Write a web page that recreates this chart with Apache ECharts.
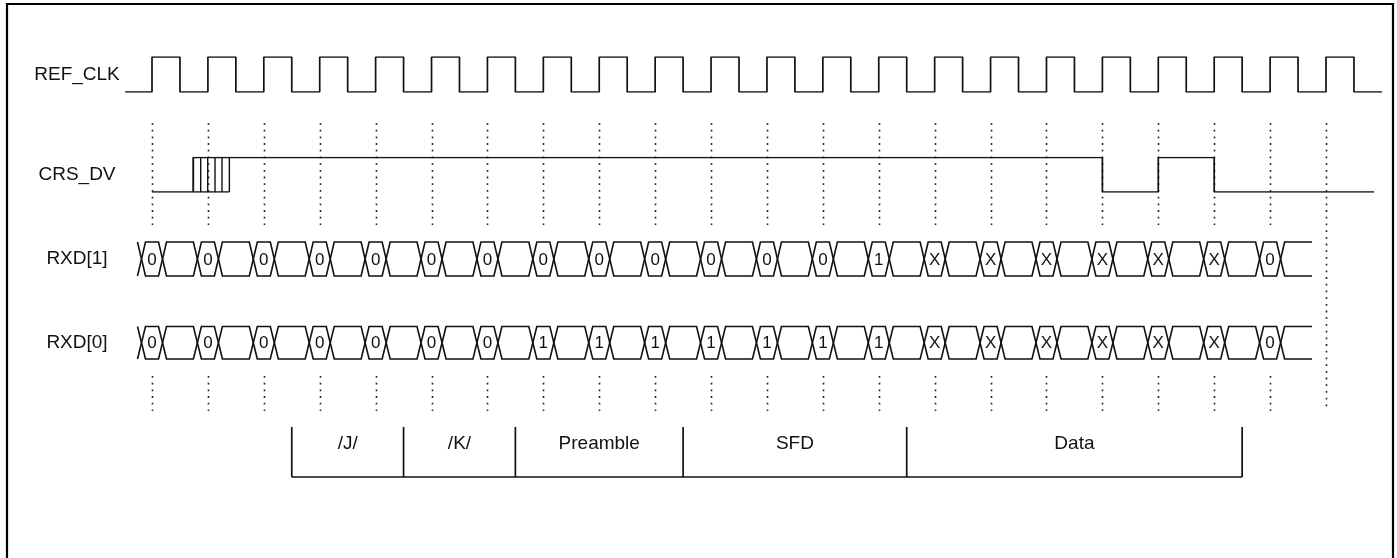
<!DOCTYPE html>
<html><head><meta charset="utf-8">
<script src="https://cdn.jsdelivr.net/npm/echarts@6/dist/echarts.min.js"></script>
<style>html,body{margin:0;padding:0;background:#fff}#c{width:1397px;height:558px}</style>
</head><body><div id="c"></div>
<script>
// ---------------- data (time in REF_CLK periods, t = 0 at first rising edge) ----------------
const rowNames = ['REF_CLK', 'CRS_DV', 'RXD[1]', 'RXD[0]'];
const clkRise = [0, 1, 2, 3, 4, 5, 6, 7, 8, 9, 10, 11, 12, 13, 14, 15, 16, 17, 18, 19, 20, 21];
const clkStart = -0.48, clkEnd = 22.0, clkDuty = 0.5;
const crsSteps = [[0, 0], [0.739, 1], [17, 0], [18, 1], [19, 0]];
const crsEnd = 21.86;
const crsHatch = [0.739, 0.871, 0.996, 1.127, 1.252, 1.384];
const rxd1 = ['0','0','0','0','0','0','0','0','0','0','0','0','0','1','X','X','X','X','X','X','0'];
const rxd0 = ['0','0','0','0','0','0','0','1','1','1','1','1','1','1','X','X','X','X','X','X','0'];
const cellHalf = 0.188;
const busEnd = 20.75;
const guideShort = [0, 1, 2, 3, 4, 5, 6, 7, 8, 9, 10, 11, 12, 13, 14, 15, 16, 17, 18, 19, 20];
const guideLong = [21];
const segNames = ['/J/', '/K/', 'Preamble', 'SFD', 'Data'];
const segBounds = [2.5, 4.5, 6.5, 9.5, 13.5, 19.5];

// ---------------- layout ----------------
const W = 1397, H = 558, PX0 = 152, PER = 55.905;
const xMin = -PX0 / PER, xMax = (W - PX0) / PER;
const rows = [
  {top: 57, height: 35},
  {top: 157.5, height: 34.5},
  {top: 242, height: 34},
  {top: 326.5, height: 32.5}
];
const INK = '#111';
const LW = 1.7;
const FONT = '"Liberation Sans", Arial, sans-serif';

const grids = rows.map(r => ({left: 0, right: 0, top: r.top, height: r.height}));
grids.push({left: 0, right: 0, top: 0, height: H});
const xAxes = grids.map((g, i) => ({type: 'value', gridIndex: i, min: xMin, max: xMax, show: false}));
const yAxes = grids.map((g, i) => i < 4
  ? {type: 'value', gridIndex: i, min: 0, max: 1, show: false}
  : {type: 'value', gridIndex: i, min: 0, max: H, inverse: true, show: false});

// clock path
const clkData = [[clkStart, 0]];
clkRise.forEach(t => { clkData.push([t, 0], [t, 1], [t + clkDuty, 1], [t + clkDuty, 0]); });
clkData.push([clkEnd, 0]);

// CRS_DV path
const crsData = [];
crsSteps.forEach((s, i) => {
  if (i === 0) crsData.push([s[0], s[1]]);
  else { crsData.push([s[0], crsSteps[i - 1][1]], [s[0], s[1]]); }
});
crsData.push([crsEnd, crsSteps[crsSteps.length - 1][1]]);

function busCells(labels) {
  const cells = [];
  labels.forEach((lab, k) => {
    cells.push({t0: k - cellHalf, t1: k + cellHalf, label: lab, first: k === 0});
    const nextStart = k + 1 - cellHalf;
    if (k < labels.length - 1) cells.push({t0: k + cellHalf, t1: nextStart, label: ''});
    else cells.push({t0: k + cellHalf, t1: busEnd, label: '', open: true});
  });
  return cells;
}

function busSeries(labels, gi) {
  const cells = busCells(labels);
  return {
    type: 'custom', xAxisIndex: gi, yAxisIndex: gi, silent: true,
    data: cells.map(c => [c.t0, c.t1]),
    encode: {x: [0, 1]},
    renderItem: (params, api) => {
      const c = cells[params.dataIndex];
      const x0 = api.coord([c.t0, 0])[0], x1 = api.coord([c.t1, 0])[0];
      const yT = api.coord([0, 1])[1], yB = api.coord([0, 0])[1], yM = (yT + yB) / 2;
      const h = 4;
      const st = {stroke: INK, lineWidth: 1.6, fill: null};
      const children = [];
      if (c.open) {
        children.push({type: 'polyline', shape: {points: [[x1, yT], [x0 + h, yT], [x0, yM], [x0 + h, yB], [x1, yB]]}, style: st});
      } else {
        children.push({type: 'polygon', shape: {points: [[x0 + h, yT], [x1 - h, yT], [x1, yM], [x1 - h, yB], [x0 + h, yB], [x0, yM]]}, style: st});
      }
      if (c.first) {
        children.push({type: 'polyline', shape: {points: [[x0 - h, yT], [x0, yM], [x0 - h, yB]]}, style: st});
      }
      if (c.label) {
        children.push({type: 'text', style: {text: c.label, x: (x0 + x1) / 2, y: yM + 1, align: 'center', verticalAlign: 'middle',
          font: '17px ' + FONT, fill: INK}});
      }
      return {type: 'group', children: children};
    }
  };
}

const guideData = guideShort.map(t => [t, 0]).concat(guideLong.map(t => [t, 1]));
const series = [
  {type: 'line', xAxisIndex: 0, yAxisIndex: 0, data: clkData, showSymbol: false, silent: true,
   lineStyle: {color: INK, width: LW}},
  {type: 'line', xAxisIndex: 1, yAxisIndex: 1, data: crsData, showSymbol: false, silent: true,
   lineStyle: {color: INK, width: LW}},
  {type: 'line', xAxisIndex: 1, yAxisIndex: 1, data: [[crsHatch[0], 0], [crsHatch[crsHatch.length - 1], 0]], showSymbol: false, silent: true,
   lineStyle: {color: INK, width: LW}},
  {type: 'custom', xAxisIndex: 1, yAxisIndex: 1, silent: true, data: crsHatch.map(t => [t]), encode: {x: 0},
   renderItem: (params, api) => {
     const p0 = api.coord([api.value(0), 0]), p1 = api.coord([api.value(0), 1]);
     return {type: 'line', shape: {x1: p0[0], y1: p0[1], x2: p1[0], y2: p1[1]}, style: {stroke: INK, lineWidth: 1.4}};
   }},
  busSeries(rxd1, 2),
  busSeries(rxd0, 3),
  {type: 'custom', xAxisIndex: 4, yAxisIndex: 4, silent: true, z: 1, data: guideData, encode: {x: 0},
   renderItem: (params, api) => {
     const t = api.value(0), full = api.value(1) === 1;
     const st = {stroke: '#222', lineWidth: 1.6, lineDash: [1.8, 4.9]};
     const seg = (a, b) => {
       const p = api.coord([t, a]), q = api.coord([t, b]);
       return {type: 'line', shape: {x1: Math.round(p[0]) + 0.5, y1: p[1], x2: Math.round(q[0]) + 0.5, y2: q[1]}, style: st};
     };
     return {type: 'group', children: full ? [seg(123, 410)] : [seg(123, 225), seg(376, 411)]};
   }},
  {type: 'custom', xAxisIndex: 4, yAxisIndex: 4, silent: true, data: segBounds.map(t => [t]), encode: {x: 0},
   renderItem: (params, api) => {
     const p = api.coord([api.value(0), 427]), q = api.coord([api.value(0), 477]);
     const children = [{type: 'line', shape: {x1: p[0], y1: p[1], x2: q[0], y2: q[1]}, style: {stroke: INK, lineWidth: LW}}];
     if (params.dataIndex === 0) {
       const e = api.coord([segBounds[segBounds.length - 1], 477]);
       children.push({type: 'line', shape: {x1: q[0], y1: q[1], x2: e[0], y2: e[1]}, style: {stroke: INK, lineWidth: LW}});
     }
     if (params.dataIndex < segNames.length) {
       const m = api.coord([(segBounds[params.dataIndex] + segBounds[params.dataIndex + 1]) / 2, 444]);
       children.push({type: 'text', style: {text: segNames[params.dataIndex], x: m[0], y: m[1], align: 'center', verticalAlign: 'middle',
         font: '19px ' + FONT, fill: INK}});
     }
     return {type: 'group', children: children};
   }}
];

const graphic = rowNames.map((n, i) => ({
  type: 'text', x: 77, y: rows[i].top + rows[i].height / 2,
  style: {text: n, align: 'center', verticalAlign: 'middle', font: '19px ' + FONT, fill: INK}
}));
graphic.push({type: 'rect', shape: {x: 7, y: 4, width: 1386, height: 620}, style: {stroke: '#000', lineWidth: 2.2, fill: null}});

const chart = echarts.init(document.getElementById('c'), null, {renderer: 'canvas'});
chart.setOption({
  animation: false,
  backgroundColor: '#fff',
  grid: grids, xAxis: xAxes, yAxis: yAxes,
  series: series, graphic: graphic
});
</script></body></html>
